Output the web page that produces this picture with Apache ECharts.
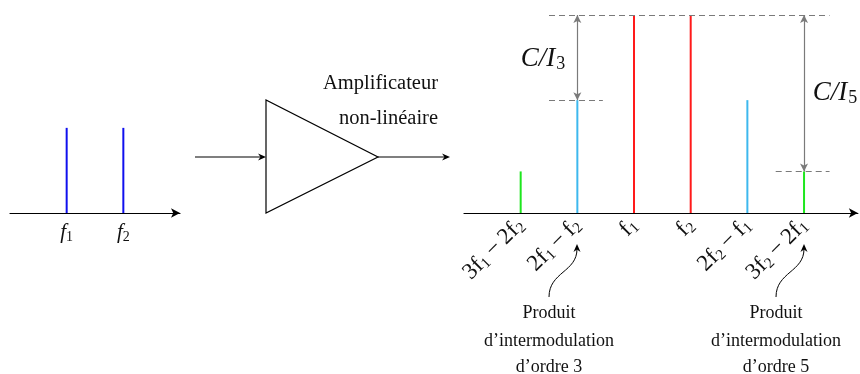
<!DOCTYPE html>
<html>
<head>
<meta charset="utf-8">
<script src="https://cdn.jsdelivr.net/npm/echarts@6/dist/echarts.min.js"></script>
<style>
  html, body { margin: 0; padding: 0; background: #fff; }
  #main { width: 860px; height: 374px; }
</style>
</head>
<body>
<div id="main"></div>
<script>
var myChart = echarts.init(document.getElementById('main'));

// input spectrum (two tones)
var inPos = [1, 2];
var inLevels = [4.3, 4.3];
var inLabels = ['{i|f}{s|1}', '{i|f}{s|2}'];

// output spectrum: carriers + intermod products
var outPos = [1, 2, 3, 4, 5, 6];
var outLevels = [2.1, 5.7, 10, 10, 5.7, 2.1];
var outLabels = [
  '{t|3f}{s|1}{m|−}{t|2f}{s|2}',
  '{t|2f}{s|1}{m|−}{t|f}{s|2}',
  '{t|f}{s|1}',
  '{t|f}{s|2}',
  '{t|2f}{s|2}{m|−}{t|f}{s|1}',
  '{t|3f}{s|2}{m|−}{t|2f}{s|1}'
];
var outColors = ['#1ee61e', '#3db8ee', '#ff1a1a', '#ff1a1a', '#3db8ee', '#1ee61e'];

var serif = '"Liberation Serif", "DejaVu Serif", serif';
var richIn = {
  i: { fontFamily: serif, fontStyle: 'italic', fontSize: 21, color: '#111' },
  s: { fontFamily: serif, fontSize: 14, color: '#111', verticalAlign: 'bottom', padding: [9, 0, 0, 0] }
};
var richOut = {
  t: { fontFamily: serif, fontSize: 23, color: '#111' },
  m: { fontFamily: serif, fontSize: 23, color: '#111', padding: [0, 5, 0, 5] },
  s: { fontFamily: serif, fontSize: 15, color: '#111', verticalAlign: 'bottom', padding: [10, 0, 0, 0] }
};

function labelFmt(list) {
  return function (v) {
    var i = Math.round(v);
    if (Math.abs(v - i) > 1e-6 || i < 1 || i > list.length) return '';
    return list[i - 1];
  };
}

var gray = '#7a7a7a';
var dashStyle = { color: gray, type: [6, 4], width: 1.2 };

function arrowHead(x, y) {
  return {
    type: 'polygon',
    shape: { points: [[x, y], [x - 3.5, y + 8], [x, y + 5.5], [x + 3.5, y + 8]] },
    style: { fill: '#000' }
  };
}
function hArrowHead(x, y) {
  return {
    type: 'polygon',
    shape: { points: [[x, y], [x - 8, y - 3.5], [x - 5.5, y], [x - 8, y + 3.5]] },
    style: { fill: '#000' }
  };
}
function txt(x, y, s, size, align) {
  return {
    type: 'text', x: x, y: y,
    style: {
      text: s, fontFamily: serif, fontSize: size, fill: '#111',
      align: align || 'center', verticalAlign: 'middle'
    }
  };
}
function ciLabel(x, y, n) {
  return {
    type: 'text', x: x, y: y,
    style: { text: '{i|C/I}{s|' + n + '}', align: 'center', verticalAlign: 'middle',
      rich: { i: { fontFamily: serif, fontStyle: 'italic', fontSize: 27, fill: '#111' },
              s: { fontFamily: serif, fontSize: 18, fill: '#111', padding: [11, 0, 0, 1] } } }
  };
}

var option = {
  animation: false,
  grid: [
    { left: 10, width: 170, top: 15, height: 198 },
    { left: 464, width: 394, top: 15, height: 198 }
  ],
  xAxis: [
    {
      gridIndex: 0, type: 'value', min: 0, max: 3, interval: 1,
      splitLine: { show: false }, axisTick: { show: false },
      axisLine: { lineStyle: { color: '#000', width: 1.2 }, symbol: ['none', 'arrow'], symbolSize: [7, 9] },
      axisLabel: { formatter: labelFmt(inLabels), rich: richIn, margin: 8 }
    },
    {
      gridIndex: 1, type: 'value', min: 0, max: 6.95, interval: 1,
      splitLine: { show: false }, axisTick: { show: false },
      axisLine: { lineStyle: { color: '#000', width: 1.2 }, symbol: ['none', 'arrow'], symbolSize: [7, 9] },
      axisLabel: { formatter: labelFmt(outLabels), rich: richOut, rotate: 45, margin: 9 }
    }
  ],
  yAxis: [
    { gridIndex: 0, type: 'value', min: 0, max: 10, show: false },
    { gridIndex: 1, type: 'value', min: 0, max: 10, show: false }
  ],
  series: [
    {
      type: 'bar', xAxisIndex: 0, yAxisIndex: 0, barWidth: 2,
      itemStyle: { color: '#1010ee' },
      data: inPos.map(function (p, k) { return [p, inLevels[k]]; })
    },
    {
      type: 'bar', xAxisIndex: 1, yAxisIndex: 1, barWidth: 2,
      data: outPos.map(function (p, k) {
        return { value: [p, outLevels[k]], itemStyle: { color: outColors[k] } };
      }),
      markLine: {
        silent: true, symbol: 'none', label: { show: false },
        lineStyle: dashStyle,
        data: [
          [{ coord: [1.5, outLevels[2]] }, { coord: [6.45, outLevels[2]] }],
          [{ coord: [1.5, outLevels[1]] }, { coord: [2.45, outLevels[1]] }],
          [{ coord: [5.5, outLevels[0]] }, { coord: [6.45, outLevels[0]] }],
          [{ coord: [2, outLevels[2]], symbol: 'arrow', lineStyle: { type: 'solid', color: gray, width: 1.2 } },
           { coord: [2, outLevels[1]], symbol: 'arrow' }],
          [{ coord: [6, outLevels[2]], symbol: 'arrow', lineStyle: { type: 'solid', color: gray, width: 1.2 } },
           { coord: [6, outLevels[0]], symbol: 'arrow' }]
        ],
        symbolSize: [6, 8]
      }
    }
  ],
  graphic: [
    // amplifier block
    { type: 'polygon', shape: { points: [[266, 100], [266, 213], [378, 157]] },
      style: { fill: 'none', stroke: '#000', lineWidth: 1.2 } },
    { type: 'line', shape: { x1: 195, y1: 157, x2: 262, y2: 157 }, style: { stroke: '#000', lineWidth: 1.2 } },
    hArrowHead(266, 157),
    { type: 'line', shape: { x1: 378, y1: 157, x2: 446, y2: 157 }, style: { stroke: '#000', lineWidth: 1.2 } },
    hArrowHead(450, 157),
    txt(438, 84, 'Amplificateur', 20.5, 'right'),
    txt(438, 119, 'non-linéaire', 20.5, 'right'),
    ciLabel(543, 59, 3),
    ciLabel(835, 93, 5),
    // curved pointers
    { type: 'bezierCurve', shape: { x1: 549, y1: 297, cpx1: 549, cpy1: 272, cpx2: 577, cpy2: 272, x2: 577, y2: 249 },
      style: { stroke: '#000', lineWidth: 1, fill: 'none' } },
    arrowHead(577, 244),
    { type: 'bezierCurve', shape: { x1: 776, y1: 297, cpx1: 776, cpy1: 272, cpx2: 804, cpy2: 272, x2: 804, y2: 249 },
      style: { stroke: '#000', lineWidth: 1, fill: 'none' } },
    arrowHead(804, 244),
    txt(549, 313, 'Produit', 18),
    txt(549, 341, 'd’intermodulation', 18),
    txt(549, 367, 'd’ordre 3', 18),
    txt(776, 313, 'Produit', 18),
    txt(776, 341, 'd’intermodulation', 18),
    txt(776, 367, 'd’ordre 5', 18)
  ]
};

myChart.setOption(option);
</script>
</body>
</html>
